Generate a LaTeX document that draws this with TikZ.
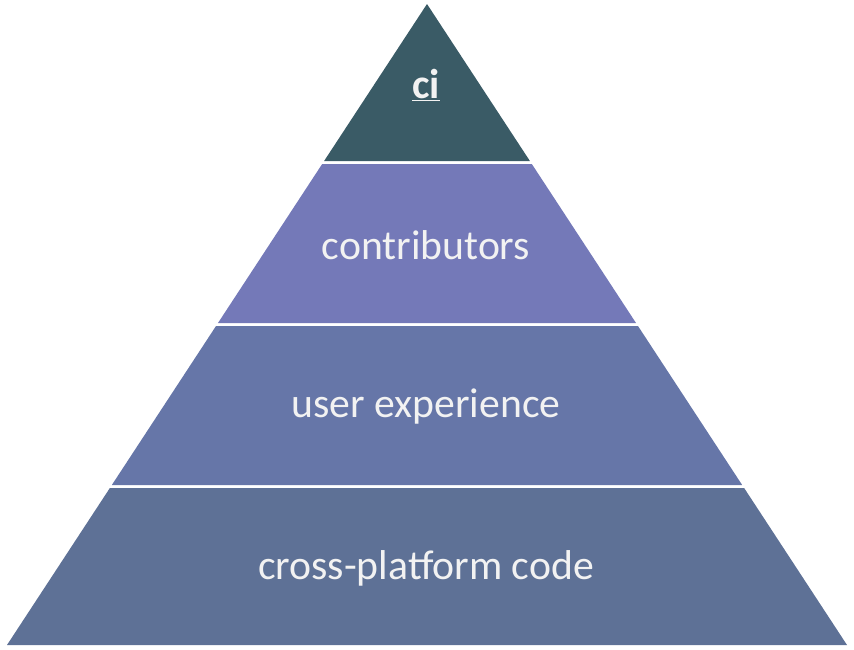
\documentclass[tikz,border=0pt]{standalone}
\usepackage{fontspec}
\setmainfont{Carlito}
\definecolor{topteal}{HTML}{3A5B66}
\definecolor{layertwo}{HTML}{7479B8}
\definecolor{layerthree}{HTML}{6676A8}
\definecolor{layerbase}{HTML}{5E7196}
\definecolor{labelwhite}{HTML}{F2F2F2}
\tikzset{
  layerlabel/.style={text=labelwhite,font=\fontsize{41.7}{50}\selectfont,inner sep=0pt}
}
\begin{document}
\begin{tikzpicture}[x=1pt,y=-1pt]
 \useasboundingbox (0,0) rectangle (854,649);
 \fill [topteal] (427,4) -- (324.1,161) -- (529.9,161) -- cycle;
 \foreach \ya/\yb/\col in {164/323/layertwo,326/485/layerthree,488/645/layerbase}{
    \fill [\col] ({427-(\ya-4)/641*420},\ya) -- ({427+(\ya-4)/641*420},\ya)
       -- ({427+(\yb-4)/641*420},\yb) -- ({427-(\yb-4)/641*420},\yb) -- cycle;
 }
 \node [layerlabel] (ci) at (426,85) {\textbf{\underline{ci}}};
 \node [layerlabel] (contrib) at (426,245) {contributors};
 \node [layerlabel] (ux) at (426,407) {user experience};
 \node [layerlabel] (code) at (426,568) {cross-platform code};
\end{tikzpicture}
\end{document}
